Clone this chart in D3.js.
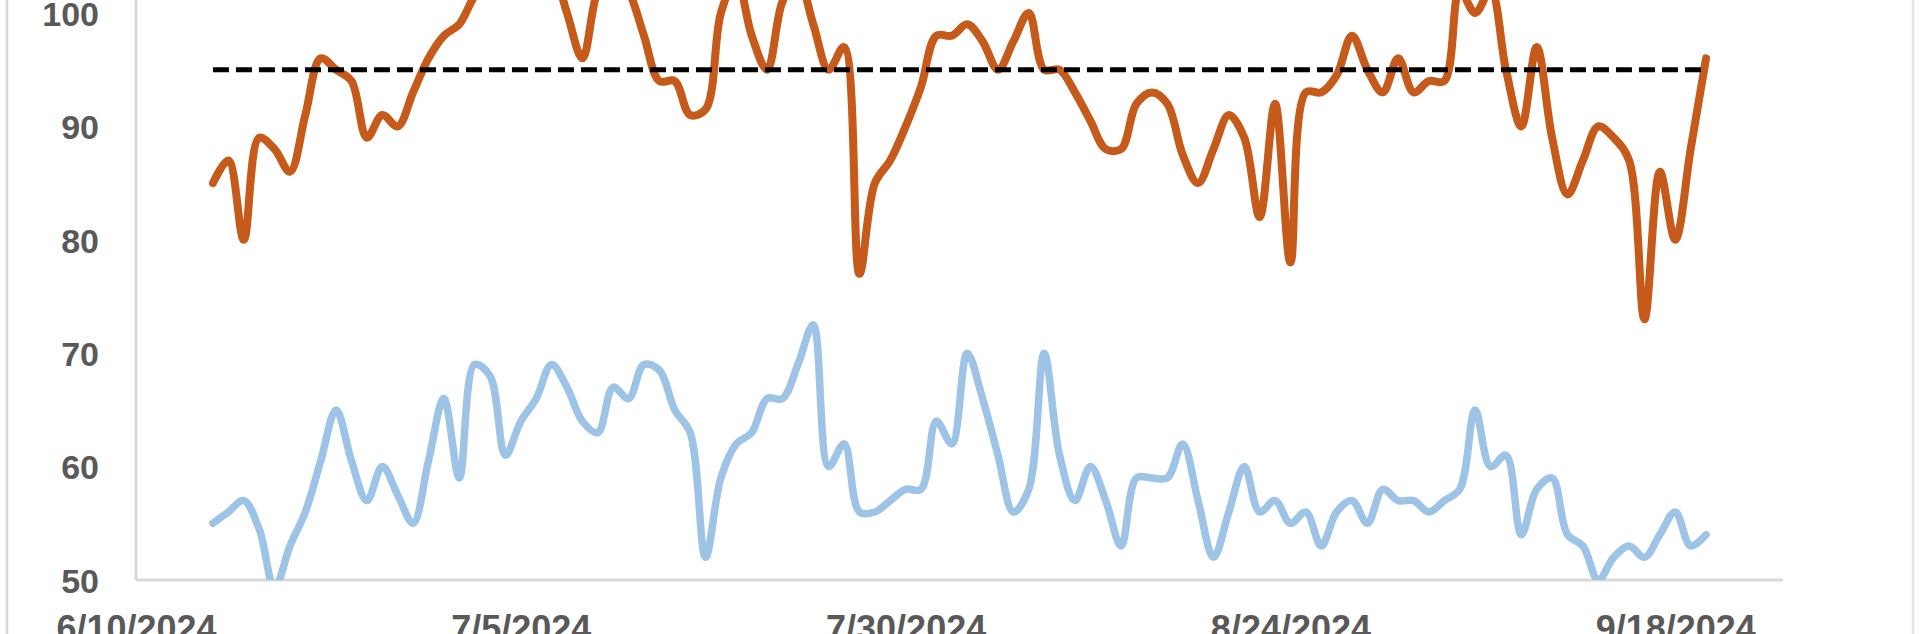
<!DOCTYPE html>
<html>
<head>
<meta charset="utf-8">
<script src="https://cdn.jsdelivr.net/npm/d3@7"></script>
<style>
  html, body { margin: 0; padding: 0; background: #ffffff; overflow: hidden; }
  svg { display: block; }
</style>
</head>
<body>
<svg id="chart" width="1920" height="634"></svg>
<script>
// ---- data ----
const startDate = "2024-06-15";           // first daily observation
const seriesA = [ // orange series (daily)
  85, 87, 80, 89, 88, 86, 91, 96, 95, 94, 89, 91, 90, 93, 96, 98, 99, 101.5, 103, 104,
  103, 105, 104, 100, 96, 102, 104, 102, 98, 94, 94, 91, 91.5, 100, 103, 98, 95, 101, 103, 99,
  95, 97, 77, 85, 87, 90, 93.5, 98, 98, 99, 97.5, 95, 97.5, 100, 95, 95, 93, 90.5, 88, 88,
  92, 93, 92, 87.5, 85, 88, 91, 89, 82, 92, 78, 93, 93, 94.5, 98, 95, 93, 96, 93, 94,
  94, 102, 100, 102, 95, 90, 97, 89, 84, 87, 90, 89, 87, 73, 86, 80, 88, 96
];
const seriesB = [ // blue series (daily)
  55, 56, 57, 54.5, 49.3, 53, 56, 60.5, 65, 60.5, 57, 60, 57.5, 55, 60.5, 66, 59, 69, 68, 61,
  64, 66, 69, 67, 64, 63, 67, 66, 69, 68.5, 65, 63, 52, 59, 62, 63, 66, 66, 69, 72.5,
  60, 62, 56, 56, 57, 58, 58, 64, 62, 70, 66, 61, 56, 58, 70, 61, 57, 60, 57, 53,
  59, 59, 59, 62, 57, 52, 56, 60, 56, 57, 55, 56, 53, 56, 57, 55, 58, 57, 57, 56,
  57, 58, 65, 60, 61, 54, 58, 59, 54, 53, 50, 52, 53, 52, 54, 56, 53, 54
];
const targetValue = 95;
const xDomain = ["2024-06-10", "2024-09-25"];
const xTickLabels = ["2024-06-10", "2024-07-05", "2024-07-30", "2024-08-24", "2024-09-18"];
const yTicks = [50, 60, 70, 80, 90, 100];

// ---- layout ----
const parse = d3.timeParse("%Y-%m-%d");
const fmt = d3.timeFormat("%-m/%-d/%Y");
const plotLeft = 136, plotRight = 1783, plotBottom = 580;

const svg = d3.select("#chart");
const x = d3.scaleTime().domain(xDomain.map(parse)).range([plotLeft, plotRight]);
const y = d3.scaleLinear().domain([50, 100]).range([plotBottom, 13]);

const dates = seriesA.map((_, i) => d3.timeDay.offset(parse(startDate), i));
const dataA = dates.map((d, i) => ({ date: d, v: seriesA[i] }));
const dataB = dates.map((d, i) => ({ date: d, v: seriesB[i] }));

// outer chart-area border
svg.append("line").attr("x1", 7).attr("x2", 7).attr("y1", 0).attr("y2", 634)
  .attr("stroke", "#d9d9d9").attr("stroke-width", 2.5);
svg.append("line").attr("x1", 1913).attr("x2", 1913).attr("y1", 0).attr("y2", 634)
  .attr("stroke", "#e3e3e3").attr("stroke-width", 2.5);

// clip for plot area
svg.append("defs").append("clipPath").attr("id", "plotclip")
  .append("rect").attr("x", plotLeft).attr("y", -300)
  .attr("width", plotRight - plotLeft).attr("height", plotBottom + 300);

// axes
const yAxis = svg.append("g").attr("transform", `translate(${plotLeft},0)`)
  .call(d3.axisLeft(y).tickValues(yTicks).tickSize(0).tickPadding(37).tickFormat(d3.format("d")));
yAxis.select(".domain").remove();
yAxis.selectAll("text")
  .attr("font-family", "'Liberation Sans', Arial, sans-serif")
  .attr("font-weight", "bold").attr("font-size", 34).attr("fill", "#595959")
  .attr("dy", "0.36em");

const xAxis = svg.append("g").attr("transform", `translate(0,${plotBottom})`)
  .call(d3.axisBottom(x).tickValues(xTickLabels.map(parse)).tickSize(0).tickPadding(35).tickFormat(fmt));
xAxis.select(".domain").remove();
xAxis.selectAll("text")
  .attr("font-family", "'Liberation Sans', Arial, sans-serif")
  .attr("font-weight", "bold").attr("font-size", 36).attr("fill", "#595959")
  .attr("dy", "0.71em");

svg.append("line").attr("x1", plotLeft).attr("x2", plotLeft).attr("y1", -10).attr("y2", plotBottom)
  .attr("stroke", "#d9d9d9").attr("stroke-width", 3);
svg.append("line").attr("x1", plotLeft).attr("x2", plotRight).attr("y1", plotBottom).attr("y2", plotBottom)
  .attr("stroke", "#d9d9d9").attr("stroke-width", 3);

// series
const line = d3.line().x(d => x(d.date)).y(d => y(d.v)).curve(d3.curveCatmullRom.alpha(0.5));
const plot = svg.append("g").attr("clip-path", "url(#plotclip)");

plot.append("path").datum(dataB).attr("d", line)
  .attr("fill", "none").attr("stroke", "#9dc3e6").attr("stroke-width", 7.5)
  .attr("stroke-linejoin", "round").attr("stroke-linecap", "round");
plot.append("path").datum(dataA).attr("d", line)
  .attr("fill", "none").attr("stroke", "#c55a1a").attr("stroke-width", 8)
  .attr("stroke-linejoin", "round").attr("stroke-linecap", "round");

// target dashed line
const targetData = [dates[0], dates[dates.length - 1]].map(d => ({ date: d, v: targetValue }));
plot.append("path").datum(targetData).attr("d", d3.line().x(d => x(d.date)).y(d => y(d.v)))
  .attr("fill", "none").attr("stroke", "#000000").attr("stroke-width", 5)
  .attr("stroke-dasharray", "16,7");
</script>
</body>
</html>
